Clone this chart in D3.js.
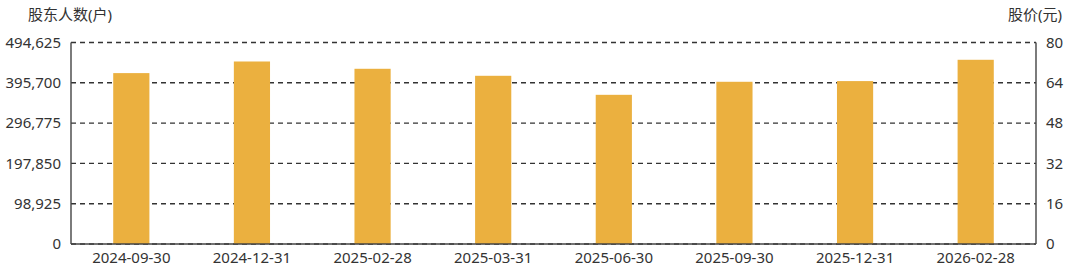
<!DOCTYPE html>
<html lang="zh">
  <head>
    <meta charset="UTF-8" />
    <title>股东人数</title>
    <style>
      body {
        margin: 0;
        background: #fff;
      }
      svg text {
        font-family: "Noto Sans", "Noto Sans CJK SC", sans-serif;
        fill: #333;
      }
    </style>
  </head>
  <body>
    <svg id="chart" width="1080" height="278"></svg>
    <script src="https://d3js.org/d3.v7.min.js"></script>
    <script>
      // data
      const dates = [
        "2024-09-30", "2024-12-31", "2025-02-28", "2025-03-31",
        "2025-06-30", "2025-09-30", "2025-12-31", "2026-02-28"
      ];
      const holders = [419500, 448000, 430100, 412900, 366200, 398200, 399900, 452200];
      const leftTicks = [0, 98925, 197850, 296775, 395700, 494625];
      const rightTicks = [0, 16, 32, 48, 64, 80];

      const margin = { top: 42.5, right: 44, bottom: 34, left: 71 };
      const width = 1080, height = 278;
      const fontSize = "15px";

      const svg = d3.select("#chart");

      const x = d3.scaleBand()
        .domain(dates)
        .range([margin.left, width - margin.right])
        .paddingInner(0.7)
        .paddingOuter(0.35);

      const y = d3.scaleLinear()
        .domain([0, 494625])
        .range([height - margin.bottom, margin.top]);

      const y2 = d3.scaleLinear()
        .domain([0, 80])
        .range([height - margin.bottom, margin.top]);

      // dashed gridlines, bars drawn on top
      svg.append("g")
        .selectAll("line")
        .data(leftTicks)
        .join("line")
        .attr("x1", margin.left)
        .attr("x2", width - margin.right)
        .attr("y1", d => y(d))
        .attr("y2", d => y(d))
        .attr("stroke", "#333")
        .attr("stroke-width", 1.4)
        .attr("stroke-dasharray", "5,4");

      svg.append("g")
        .selectAll("rect")
        .data(holders)
        .join("rect")
        .attr("x", (d, i) => x(dates[i]))
        .attr("width", x.bandwidth())
        .attr("y", d => y(d))
        .attr("height", d => y(0) - y(d))
        .attr("fill", "#ebb03f");

      // axis lines
      const axisColor = "#444";
      svg.append("line")
        .attr("x1", margin.left).attr("x2", margin.left)
        .attr("y1", y(494625)).attr("y2", y(0))
        .attr("stroke", axisColor).attr("stroke-width", 1.4);
      svg.append("line")
        .attr("x1", width - margin.right).attr("x2", width - margin.right)
        .attr("y1", y(494625)).attr("y2", y(0))
        .attr("stroke", axisColor).attr("stroke-width", 1.4);
      svg.append("line")
        .attr("x1", margin.left).attr("x2", width - margin.right)
        .attr("y1", y(0)).attr("y2", y(0))
        .attr("stroke", axisColor).attr("stroke-width", 1.4);

      // left axis
      const left = svg.append("g")
        .attr("transform", `translate(${margin.left},0)`)
        .call(d3.axisLeft(y).tickValues(leftTicks).tickFormat(d3.format(",")).tickSize(0).tickPadding(10));
      left.select(".domain").remove();
      left.selectAll("text").style("font-size", fontSize).attr("fill", "#333");

      // right axis
      const right = svg.append("g")
        .attr("transform", `translate(${width - margin.right},0)`)
        .call(d3.axisRight(y2).tickValues(rightTicks).tickSize(0).tickPadding(10));
      right.select(".domain").remove();
      right.selectAll("text").style("font-size", fontSize).attr("fill", "#333");

      // bottom axis
      const bottom = svg.append("g")
        .attr("transform", `translate(0,${height - margin.bottom})`)
        .call(d3.axisBottom(x).tickSize(0).tickPadding(8));
      bottom.select(".domain").remove();
      bottom.selectAll("text").style("font-size", fontSize).attr("fill", "#333");

      // axis titles
      svg.append("text")
        .attr("x", 28).attr("y", 20)
        .style("font-size", fontSize)
        .text("股东人数(户)");
      svg.append("text")
        .attr("x", 1062).attr("y", 20)
        .attr("text-anchor", "end")
        .style("font-size", fontSize)
        .text("股价(元)");
    </script>
  </body>
</html>
